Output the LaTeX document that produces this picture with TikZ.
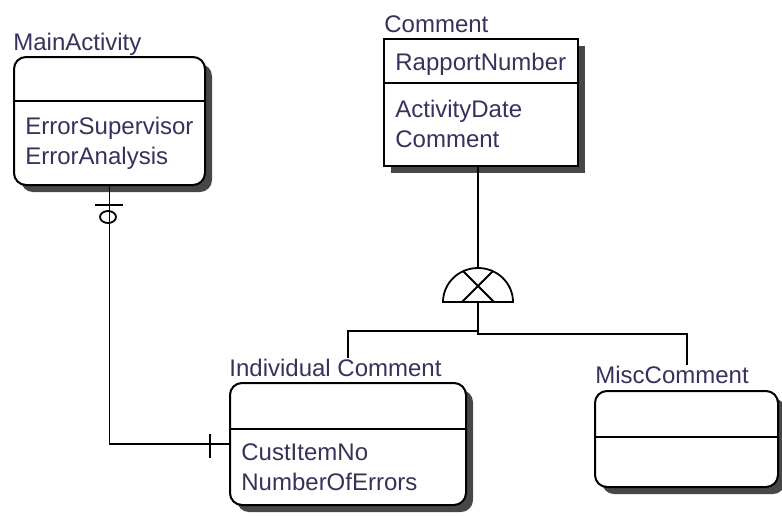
\documentclass[tikz,border=0pt]{standalone}
\usepackage{fontspec}
\setmainfont{Liberation Sans}
\usepackage{tikz}
\usetikzlibrary{shadows}

\definecolor{erdtext}{RGB}{58,48,92}
\tikzset{
	entity/.style={draw, line width=1pt, fill=white, rounded corners=6pt, inner sep=0pt, anchor=north west,
		general shadow={fill=black!72, shadow xshift=3.5pt, shadow yshift=-3.5pt}},
	kernel/.style={entity, sharp corners},
	lbl/.style={anchor=base west, inner sep=0pt, text=erdtext, font=\fontsize{12}{14}\selectfont},
	rel/.style={line width=0.9pt},
}

\begin{document}
\begin{tikzpicture}[x=0.5pt,y=-0.5pt]
				\useasboundingbox (0,0) rectangle (782,515);
				
				% the four entities
				\node[entity, minimum width=95.5pt, minimum height=64pt] (main) at (13,56) {};
				\node[kernel, minimum width=97pt, minimum height=63.5pt] (comment) at (383,38) {};
				\node[entity, minimum width=118pt, minimum height=61pt] (indiv) at (229,382) {};
				\node[entity, minimum width=91.5pt, minimum height=48pt] (misc) at (594,390) {};
				
				\draw[line width=1pt] (main.west |- 0,101) -- (main.east |- 0,101);
				\draw[line width=1pt] (comment.west |- 0,83) -- (comment.east |- 0,83);
				\draw[line width=1pt] (indiv.west |- 0,429) -- (indiv.east |- 0,429);
				\draw[line width=1pt] (misc.west |- 0,437) -- (misc.east |- 0,437);
				
				% names and attributes
				\node[lbl] (mainT) at (13,50) {MainActivity};
				\node[lbl] (main1) at (25,134) {ErrorSupervisor};
				\node[lbl] (main2) at (25,164) {ErrorAnalysis};
				
				\node[lbl] (commentT) at (384,32) {Comment};
				\node[lbl] (comment1) at (395,70) {RapportNumber};
				\node[lbl] (comment2) at (395,117) {ActivityDate};
				\node[lbl] (comment3) at (395,147) {Comment};
				
				\node[lbl] (indivT) at (229,376) {Individual Comment};
				\node[lbl] (indiv1) at (241,460) {CustItemNo};
				\node[lbl] (indiv2) at (241,490) {NumberOfErrors};
				
				\node[lbl] (miscT) at (595,383) {MiscComment};
				
				% subtype category symbol
				\coordinate (cat) at (478,302);
				\coordinate (cattop) at (478,268);
				\draw[rel, fill=white] (443,302) arc[start angle=180, end angle=360, x radius=35, y radius=34] -- cycle;
				\draw[rel] (463,271) -- (494,302) (493,271) -- (462,302);
				\draw[rel] (comment.south -| cattop) -- (cattop);
				
				\coordinate (legL) at (348,331);
				\coordinate (legR) at (687,334);
				\draw[rel] (cat) |- (legL) -- (legL |- indivT.north);
				\draw[rel] (cat) |- (legR) -- (legR |- miscT.north);
				
				% relationship MainActivity -- Individual Comment
				\draw[rel] (main.south) |- (indiv.west);
				\draw[rel] (95,205) -- (123,205);
				\draw[rel] (108,217) ellipse[x radius=8, y radius=6];
				\draw[rel] (210,434) -- (210,458);
			\end{tikzpicture}
\end{document}
